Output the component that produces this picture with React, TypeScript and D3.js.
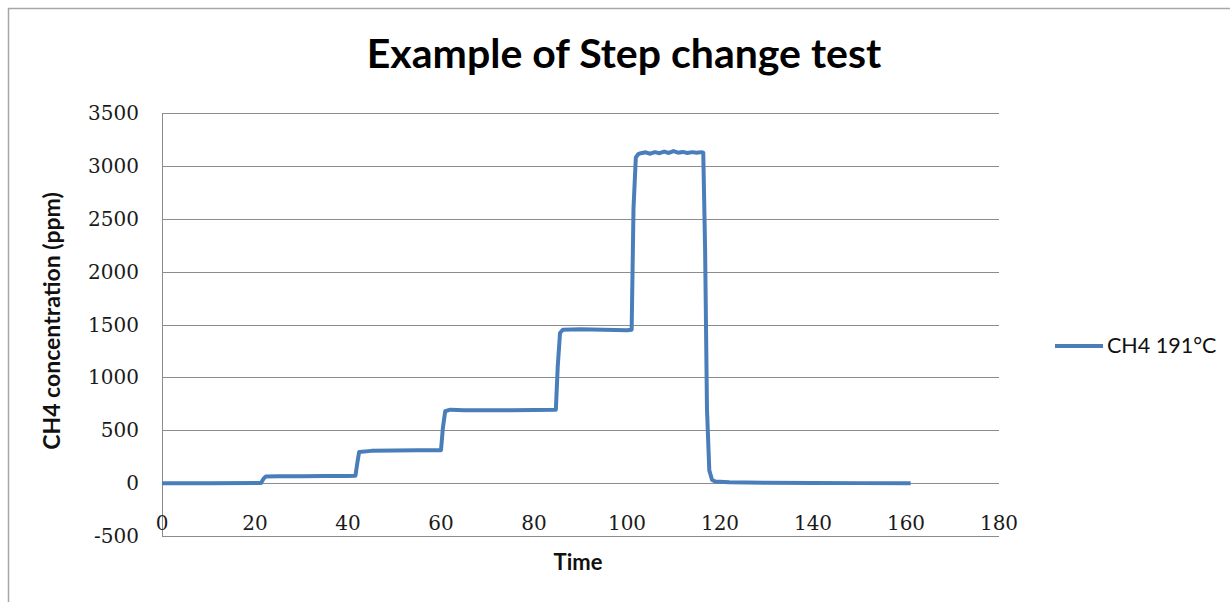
import * as d3 from 'd3'

// CH4 191°C step change test
const times = [
  0, 10, 21.3, 21.8, 22.3, 25, 30, 35, 40, 41.6,
  42.0, 42.4, 45, 50, 55, 60.0, 60.4, 60.9, 62, 65,
  70, 75, 80, 84.7, 85.1, 85.6, 86.2, 90, 95, 100,
  101.0, 101.4, 101.9, 102.4, 103, 104, 105, 106, 107, 108,
  109, 110, 111, 112, 113, 114, 115, 116, 116.4, 116.8,
  117.2, 117.7, 118.3, 119, 122, 130, 140, 150, 161,
]
const ch4 = [
  0, 0, 2, 40, 62, 64, 66, 67, 68, 70,
  190, 295, 305, 308, 310, 312, 520, 680, 695, 690,
  688, 690, 692, 695, 1100, 1420, 1450, 1455, 1450, 1445,
  1450, 2600, 3080, 3110, 3120, 3128, 3115, 3130, 3120, 3135,
  3122, 3140, 3125, 3132, 3122, 3130, 3125, 3130, 3125, 2200,
  700, 120, 30, 15, 8, 4, 2, 0, 0,
]

const yTicks = [-500, 0, 500, 1000, 1500, 2000, 2500, 3000, 3500]
const xTicks = [0, 20, 40, 60, 80, 100, 120, 140, 160, 180]

const seriesName = 'CH4 191°C'
const lineColor = '#4a7ebb'

export default function App() {
  const x = d3.scaleLinear().domain([0, 180]).range([162, 999])
  const y = d3.scaleLinear().domain([-500, 3500]).range([536, 113])

  const points: [number, number][] = times.map((t, i) => [t, ch4[i]])
  const line = d3.line<[number, number]>()
    .x(d => x(d[0]))
    .y(d => y(d[1]))

  const sans = 'Lato, "Open Sans", sans-serif'
  const serif = '"DejaVu Serif", serif'

  return (
    <svg width={1230} height={602} style={{ position: 'absolute', left: 0, top: 0, background: '#fff' }}>
      <rect x={8.5} y={8.5} width={1240} height={620} fill="#fff" stroke="#a6a6a6" strokeWidth={1.5} />

      <text x={624} y={68} textAnchor="middle" fontFamily={sans} fontWeight="bold" fontSize={41} fill="#000">
        Example of Step change test
      </text>

      {yTicks.map(v => (
        <line key={'g' + v} x1={x(0)} x2={x(180)} y1={Math.round(y(v)) + 0.5} y2={Math.round(y(v)) + 0.5}
          stroke="#8c8c8c" strokeWidth={1} />
      ))}
      <line x1={162.5} x2={162.5} y1={y(3500)} y2={y(-500)} stroke="#8c8c8c" strokeWidth={1} />

      {yTicks.map(v => (
        <text key={'y' + v} x={139} y={y(v) + 7} textAnchor="end" fontFamily={serif} fontSize={20} fill="#1a1a1a">
          {v}
        </text>
      ))}
      {xTicks.map(v => (
        <text key={'x' + v} x={x(v)} y={530} textAnchor="middle" fontFamily={serif} fontSize={20} fill="#1a1a1a">
          {v}
        </text>
      ))}

      <path d={line(points) || ''} fill="none" stroke={lineColor} strokeWidth={4} strokeLinejoin="round" />

      <text transform="translate(60,321) rotate(-90)" textAnchor="middle" fontFamily={sans} fontWeight="bold" fontSize={23} fill="#111">
        CH4 concentration (ppm)
      </text>
      <text x={578} y={570} textAnchor="middle" fontFamily={sans} fontWeight="bold" fontSize={22} fill="#111">
        Time
      </text>

      <line x1={1055} x2={1103} y1={346} y2={346} stroke={lineColor} strokeWidth={4} />
      <text x={1107} y={353} fontFamily={sans} fontSize={21.5} fill="#111">
        {seriesName}
      </text>
    </svg>
  )
}
